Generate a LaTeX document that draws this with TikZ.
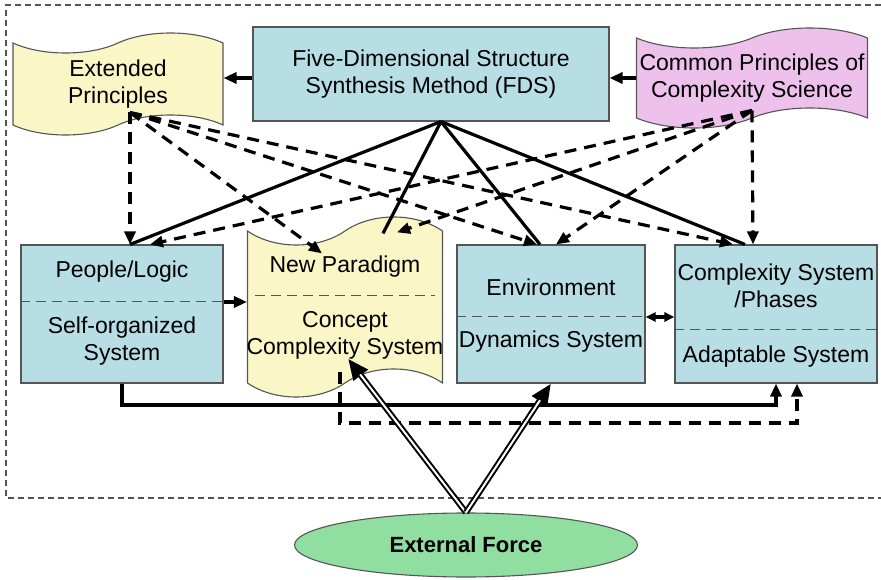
\documentclass[tikz,border=0pt]{standalone}
\usepackage{fontspec}
\setmainfont{Liberation Sans}
\usetikzlibrary{shapes.symbols,shapes.geometric,arrows.meta,calc}

\definecolor{boite}{RGB}{183,222,228}
\definecolor{jaune}{RGB}{250,246,198}
\definecolor{rose}{RGB}{238,192,236}
\definecolor{vert}{RGB}{144,222,160}
\definecolor{bord}{RGB}{85,85,85}

\tikzset{
  bloc/.style={draw=bord, line width=1.1pt, fill=boite, minimum width=202pt, minimum height=138pt, inner sep=0pt},
  ruban/.style={tape, draw=bord, line width=1.1pt, inner sep=0pt, tape bend height=20pt},
  texte/.style={align=center, font=\fontsize{23}{27}\selectfont},
  trait/.style={draw=bord, line width=1pt, dash pattern=on 10pt off 6pt},
  plein/.style={line width=3.2pt},
  tiret/.style={line width=3.2pt, dash pattern=on 12pt off 8pt},
  fleche/.style={-{Triangle[length=13pt,width=11pt]}},
  poussee/.style={line width=6pt, -{Triangle[length=21pt,width=17pt]}},
  pousseeblanc/.style={white, line width=2pt, shorten >=20pt}
}

\begin{document}
\begin{tikzpicture}[x=1pt,y=-1pt]
\useasboundingbox (0,0) rectangle (881,580);

% Cadre pointill\'e
\draw[bord, line width=1.1pt, dash pattern=on 6pt off 4pt] (881,5) -- (6,5) -- (6,498) -- (881,498);

% Rang\'ee du haut
\node[draw=bord, line width=1.1pt, fill=boite, minimum width=356pt, minimum height=94pt, texte] (fds) at (431,74) {Five-Dimensional Structure\\Synthesis Method (FDS)};
\node[ruban, fill=jaune, minimum width=210pt, minimum height=102pt, texte] (ext) at (118,84) {Extended\\Principles};
\node[ruban, fill=rose, minimum width=231pt, minimum height=100pt, texte] (com) at (752,78) {Common Principles of\\Complexity Science};

% Rang\'ee du milieu
\node[bloc] (pl) at (122,314) {};
\node[ruban, fill=jaune, minimum width=195pt, minimum height=180pt, tape bend height=28pt] (np) at (345,307) {};
\node[bloc, minimum width=188pt] (env) at (551,314) {};
\node[bloc] (cx) at (776,314) {};

% S\'eparations
\draw[trait] (pl.west |- 0,301) -- (pl.east |- 0,301);
\draw[trait] (255,295) -- (435,295);
\draw[trait] (env.west |- 0,316) -- (env.east |- 0,316);
\draw[trait] (cx.west |- 0,329) -- (cx.east |- 0,329);

% Textes des blocs
\node[texte] (pl1) at (122,272) {People/Logic};
\node[texte] (pl2) at (122,341) {Self-organized\\System};
\node[texte] (np1) at (345,267) {New Paradigm};
\node[texte] (np2) at (345,335) {Concept\\Complexity System};
\node[texte] (env1) at (551,287) {Environment};
\node[texte] (env2) at (551,342) {Dynamics System};
\node[texte] (cx1) at (776,286) {Complexity System\\/Phases};
\node[texte] (cx2) at (776,357) {Adaptable System};

% Force ext\'erieure
\node[ellipse, draw=bord, line width=1.1pt, fill=vert, minimum width=343pt, minimum height=64pt, font=\fontsize{22}{27}\selectfont\bfseries] (ef) at (466,545) {External Force};

% Fl\`eches horizontales
\draw[plein, fleche] ([yshift=-4pt]fds.west) -- ([yshift=-4pt]fds.west -| ext.east);
\draw[plein, fleche] (com.west) -- (com.west -| fds.east);
\draw[plein, fleche] ([yshift=12pt]pl.east) -- ([yshift=12pt]pl.east -| np.west);
\draw[plein, {Triangle[length=10pt,width=9pt]}-{Triangle[length=10pt,width=9pt]}] ([yshift=-3pt]env.east) -- ([yshift=-3pt]cx.west);

% Liens FDS
\draw[plein] ([xshift=10pt]fds.south) -- ([xshift=8pt]pl.north);
\draw[plein] ([xshift=10pt]fds.south) -- ([xshift=38pt,yshift=-3pt]np.north);
\draw[plein] ([xshift=10pt]fds.south) -- ([xshift=-11pt]env.north);
\draw[plein] ([xshift=10pt]fds.south) -- ([xshift=-31pt]cx.north);

% Principes \'etendus
\draw[tiret, fleche] ([xshift=12pt,yshift=13pt]ext.south) -- ([xshift=8pt]pl.north);
\draw[tiret, fleche] ([xshift=12pt,yshift=13pt]ext.south) -- ([xshift=-23pt,yshift=-23pt]np.north);
\draw[tiret, fleche] ([xshift=12pt,yshift=13pt]ext.south) -- ([xshift=-14pt]env.north);
\draw[tiret, fleche] ([xshift=12pt,yshift=13pt]ext.south) -- ([xshift=-43pt]cx.north);

% Principes communs
\draw[tiret, fleche] ([yshift=8pt]com.south) -- ([xshift=-23pt]cx.north);
\draw[tiret, fleche] ([yshift=8pt]com.south) -- ([xshift=5pt]env.north);
\draw[tiret, fleche] ([yshift=8pt]com.south) -- ([xshift=52pt,yshift=-2pt]np.north);
\draw[tiret, fleche] ([yshift=8pt]com.south) -- ([xshift=28pt]pl.north);

% Retours du bas
\coordinate (railA) at (0,405);
\coordinate (railB) at (0,423);
\draw[plein, fleche] (pl.south) |- (railA -| cx.south) -- (cx.south);
\draw[tiret, fleche] ([xshift=-5pt,yshift=12pt]np.south) |- (railB -| 797,0) -- (cx.south -| 797,0);

% Pouss\'ee externe
\draw[poussee] (ef.north) -- ([xshift=3pt,yshift=25pt]np.south);
\draw[pousseeblanc] (ef.north) -- ([xshift=3pt,yshift=25pt]np.south);
\draw[poussee] (ef.north) -- (env.south);
\draw[pousseeblanc] (ef.north) -- (env.south);

\end{tikzpicture}
\end{document}
